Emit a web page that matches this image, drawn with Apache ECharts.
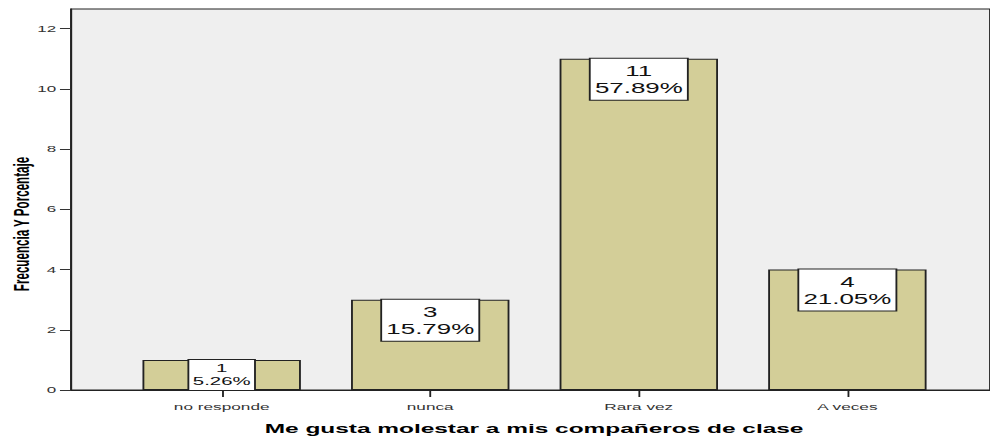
<!DOCTYPE html>
<html>
<head>
<meta charset="utf-8">
<script src="https://cdn.jsdelivr.net/npm/echarts@6/dist/echarts.min.js"></script>
<style>
  html, body { margin: 0; padding: 0; background: #ffffff; overflow: hidden; }
  #wrap { width: 990px; height: 437px; overflow: hidden; position: relative; }
  #chart { width: 535px; height: 437px; transform: scaleX(1.8505); transform-origin: 0 0; }
</style>
</head>
<body>
<div id="wrap"><div id="chart"></div></div>
<script>
// ---- data ----
const categories = ['no responde', 'nunca', 'Rara vez', 'A veces'];
const categoryPositions = [1, 2, 3, 4];
const counts = [1, 3, 11, 4];
const percents = ['5.26%', '15.79%', '57.89%', '21.05%'];
const yTickValues = [0, 2, 4, 6, 8, 10, 12];
const xTitle = 'Me gusta molestar a mis compañeros de clase';
const yTitle = 'Frecuencia Y Porcentaje';

const chart = echarts.init(document.getElementById('chart'), null, { renderer: 'svg' });

const barData = counts.map((v, i) => {
  const item = { value: [categoryPositions[i], v] };
  if (i === 0) {
    item.label = { fontSize: 11, lineHeight: 13, width: 35, padding: [2, 0, 2, 0] };
  }
  return item;
});

const option = {
  animation: false,
  backgroundColor: '#ffffff',
  grid: {
    left: 38.4, right: -1, top: 9, bottom: 47,
    show: true, backgroundColor: '#efefef', borderColor: '#222222', borderWidth: 1
  },
  xAxis: {
    type: 'value',
    min: 0.2778, max: 4.684,
    splitLine: { show: false },
    axisLine: { show: true, lineStyle: { color: '#222222', width: 1 } },
    axisTick: { show: true, customValues: categoryPositions, length: 7, lineStyle: { color: '#222222', width: 1 } },
    axisLabel: {
      customValues: categoryPositions,
      formatter: v => categories[categoryPositions.indexOf(v)] || '',
      fontFamily: 'Liberation Sans', fontSize: 9.3, color: '#333333', margin: 12
    }
  },
  yAxis: {
    type: 'value',
    min: 0, max: 12.65,
    splitLine: { show: false },
    axisLine: { show: true, lineStyle: { color: '#222222', width: 1 } },
    axisTick: { show: true, customValues: yTickValues, length: 6, lineStyle: { color: '#333333', width: 1 } },
    axisLabel: {
      customValues: yTickValues,
      fontFamily: 'Liberation Sans', fontSize: 9.2, color: '#333333', margin: 8
    }
  },
  series: [{
    type: 'bar',
    data: barData,
    barWidth: 85.6,
    itemStyle: { color: '#d3ce98', borderColor: '#222222', borderWidth: 1 },
    label: {
      show: true,
      position: 'insideTop',
      distance: 0,
      formatter: p => counts[p.dataIndex] + '\n' + percents[p.dataIndex],
      fontFamily: 'Liberation Sans', fontSize: 14, lineHeight: 17, color: '#111111',
      backgroundColor: '#ffffff', borderColor: '#222222', borderWidth: 1,
      width: 52, align: 'center', padding: [4, 0, 3, 0]
    }
  }],
  graphic: [
    {
      type: 'text', x: 11.9, y: 224, rotation: Math.PI / 2,
      style: {
        text: yTitle, font: 'bold 11.6px "Liberation Sans"', fill: '#000000',
        align: 'center', verticalAlign: 'middle', textAlign: 'center', textVerticalAlign: 'middle'
      }
    },
    {
      type: 'text', x: 288.6, y: 428,
      style: {
        text: xTitle, font: 'bold 13.2px "Liberation Sans"', fill: '#000000',
        align: 'center', verticalAlign: 'middle', textAlign: 'center', textVerticalAlign: 'middle'
      }
    }
  ]
};
chart.setOption(option);
</script>
</body>
</html>
